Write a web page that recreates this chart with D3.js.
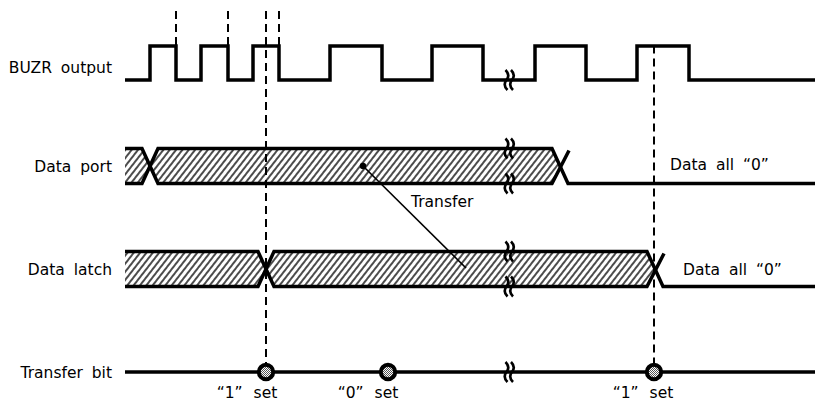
<!DOCTYPE html>
<html>
<head>
<meta charset="utf-8">
<script src="https://cdn.jsdelivr.net/npm/d3@7"></script>
<style>
body { margin: 0; background: #fff; }
text { font-family: "DejaVu Sans", sans-serif; font-size: 15.5px; fill: #000; word-spacing: 4px; }
</style>
</head>
<body>
<script>
var width = 815,
    height = 403;

// signal rows
var signals = ["BUZR output", "Data port", "Data latch", "Transfer bit"];

// time of every BUZR edge (starts low)
var buzrEdges = [25, 51, 76, 103, 128, 154, 205, 257, 307, 358, 410, 461, 512, 564];

// bus transitions: data valid between the two times, then all "0"
var portChanges = [25, 435];
var latchChanges = [141, 530];
var busText = "Data all \u201c0\u201d";

// transfer bit events
var bitTimes = [141, 263, 529];
var bitLabels = ["\u201c1\u201d set", "\u201c0\u201d set", "\u201c1\u201d set"];
var bitLabelTimes = [122, 243, 518];

// dashed guides: time, top row ("above" = above BUZR), bottom row
var guideTimes = [51, 103, 141, 154, 529];
var guideFrom = ["above", "above", "above", "above", "BUZR output"];
var guideTo = ["BUZR output", "BUZR output", "Transfer bit", "BUZR output", "Transfer bit"];

// time axis break
var breakTime = 384;

// transfer arrow from data port to data latch
var transferFrom = 238, transferTo = 341;

var x = d3.scaleLinear().domain([0, 690]).range([125, 815]);
var y = d3.scalePoint().domain(signals).range([63, 372]);
var half = 17.5, slope = 8;

var svg = d3.select("body").append("svg")
    .attr("width", width)
    .attr("height", height);

var defs = svg.append("defs");
defs.append("pattern")
    .attr("id", "hatch")
    .attr("width", 5).attr("height", 5)
    .attr("patternUnits", "userSpaceOnUse")
    .attr("patternTransform", "rotate(38)")
  .append("line")
    .attr("x1", 1).attr("y1", -1).attr("x2", 1).attr("y2", 6)
    .attr("stroke", "#000").attr("stroke-width", 1.4);

var dots = defs.append("pattern")
    .attr("id", "dots")
    .attr("width", 2).attr("height", 2)
    .attr("patternUnits", "userSpaceOnUse");
dots.append("rect").attr("width", 2).attr("height", 2).attr("fill", "#fff");
dots.append("rect").attr("width", 1).attr("height", 1).attr("fill", "#555");
dots.append("rect").attr("x", 1).attr("y", 1).attr("width", 1).attr("height", 1).attr("fill", "#555");

// labels
svg.append("g").selectAll("text")
    .data(signals)
    .enter().append("text")
    .attr("x", 112)
    .attr("y", function(d) { return y(d) + (d == "BUZR output" ? 10 : 6); })
    .attr("text-anchor", "end")
    .text(function(d) { return d; });

// dashed guides
svg.append("g").selectAll("line")
    .data(guideTimes)
    .enter().append("line")
    .attr("x1", function(d) { return x(d); })
    .attr("x2", function(d) { return x(d); })
    .attr("y1", function(d, i) { return guideFrom[i] == "above" ? 11 : y(guideFrom[i]) - half; })
    .attr("y2", function(d, i) {
        var r = guideTo[i];
        return r == "Transfer bit" ? y(r) - 9 : y(r) - half;
    })
    .attr("stroke", "#000")
    .attr("stroke-width", 2)
    .attr("stroke-dasharray", "8,5");

// BUZR output
var by = y("BUZR output");
var pts = [[x(0), by + 17]];
var lvl = by + 17;
buzrEdges.forEach(function(t) {
    pts.push([x(t), lvl]);
    lvl = lvl == by + 17 ? by - 17 : by + 17;
    pts.push([x(t), lvl]);
});
pts.push([x(690), lvl]);
svg.append("path")
    .attr("d", d3.line()(pts))
    .attr("fill", "none")
    .attr("stroke", "#000")
    .attr("stroke-width", 3.5);

// buses
function bus(name, ch) {
    var cy = y(name), top = cy - half, bot = cy + half;
    var g = svg.append("g");
    var a = x(ch[0]), b = x(ch[1]);
    var shapes = [
        [[x(0), top], [a - slope, top], [a, cy], [a - slope, bot], [x(0), bot]],
        [[a, cy], [a + slope, top], [b - slope, top], [b, cy], [b - slope, bot], [a + slope, bot]]
    ];
    g.selectAll("path.fill")
        .data(shapes)
        .enter().append("path")
        .attr("class", "fill")
        .attr("d", function(d) { return d3.line()(d) + "Z"; })
        .attr("fill", "url(#hatch)");
    var lines = [
        [[x(0), top], [a - slope, top], [a + slope, bot], [b - slope, bot], [b + slope + 1, top + 2]],
        [[x(0), bot], [a - slope, bot], [a + slope, top], [b - slope, top], [b + slope, bot], [x(690), bot]]
    ];
    g.selectAll("path.edge")
        .data(lines)
        .enter().append("path")
        .attr("class", "edge")
        .attr("d", d3.line())
        .attr("fill", "none")
        .attr("stroke", "#000")
        .attr("stroke-width", 3.5);
}
bus("Data port", portChanges);
bus("Data latch", latchChanges);

svg.append("text")
    .attr("x", x(545)).attr("y", y("Data port") + 4)
    .text(busText);
svg.append("text")
    .attr("x", x(558)).attr("y", y("Data latch") + 6)
    .text(busText);

// transfer arrow
svg.append("line")
    .attr("x1", x(transferFrom)).attr("y1", y("Data port"))
    .attr("x2", x(transferTo)).attr("y2", y("Data latch") - 1)
    .attr("stroke", "#000").attr("stroke-width", 1.6);
svg.append("circle")
    .attr("cx", x(transferFrom)).attr("cy", y("Data port"))
    .attr("r", 3.2).attr("fill", "#000");
svg.append("text")
    .attr("x", x(286)).attr("y", 207)
    .text("Transfer");

// transfer bit
var ty = y("Transfer bit");
svg.append("line")
    .attr("x1", x(0)).attr("x2", x(690))
    .attr("y1", ty).attr("y2", ty)
    .attr("stroke", "#000").attr("stroke-width", 3.5);

svg.append("g").selectAll("circle")
    .data(bitTimes)
    .enter().append("circle")
    .attr("cx", function(d) { return x(d); })
    .attr("cy", ty)
    .attr("r", 7.2)
    .attr("fill", "url(#dots)")
    .attr("stroke", "#000")
    .attr("stroke-width", 4);

svg.append("g").selectAll("text")
    .data(bitLabels)
    .enter().append("text")
    .attr("x", function(d, i) { return x(bitLabelTimes[i]); })
    .attr("y", 398)
    .attr("text-anchor", "middle")
    .style("word-spacing", "6px")
    .text(function(d) { return d; });

// break marks on each line
var breakYs = [by + 17,
    y("Data port") - half, y("Data port") + half,
    y("Data latch") - half, y("Data latch") + half,
    ty];
function wave(cx, cy) {
    return "M" + (cx - 1) + "," + (cy - 10) +
        "Q" + (cx + 4) + "," + (cy - 5) + " " + cx + "," + cy +
        "Q" + (cx - 4) + "," + (cy + 5) + " " + (cx + 1) + "," + (cy + 10);
}
svg.append("g").selectAll("path")
    .data(breakYs)
    .enter().append("path")
    .attr("d", function(d) {
        var bx = x(breakTime);
        return wave(bx - 2.5, d) + wave(bx + 3, d);
    })
    .attr("fill", "none")
    .attr("stroke", "#000")
    .attr("stroke-width", 2.6);
</script>
</body>
</html>
